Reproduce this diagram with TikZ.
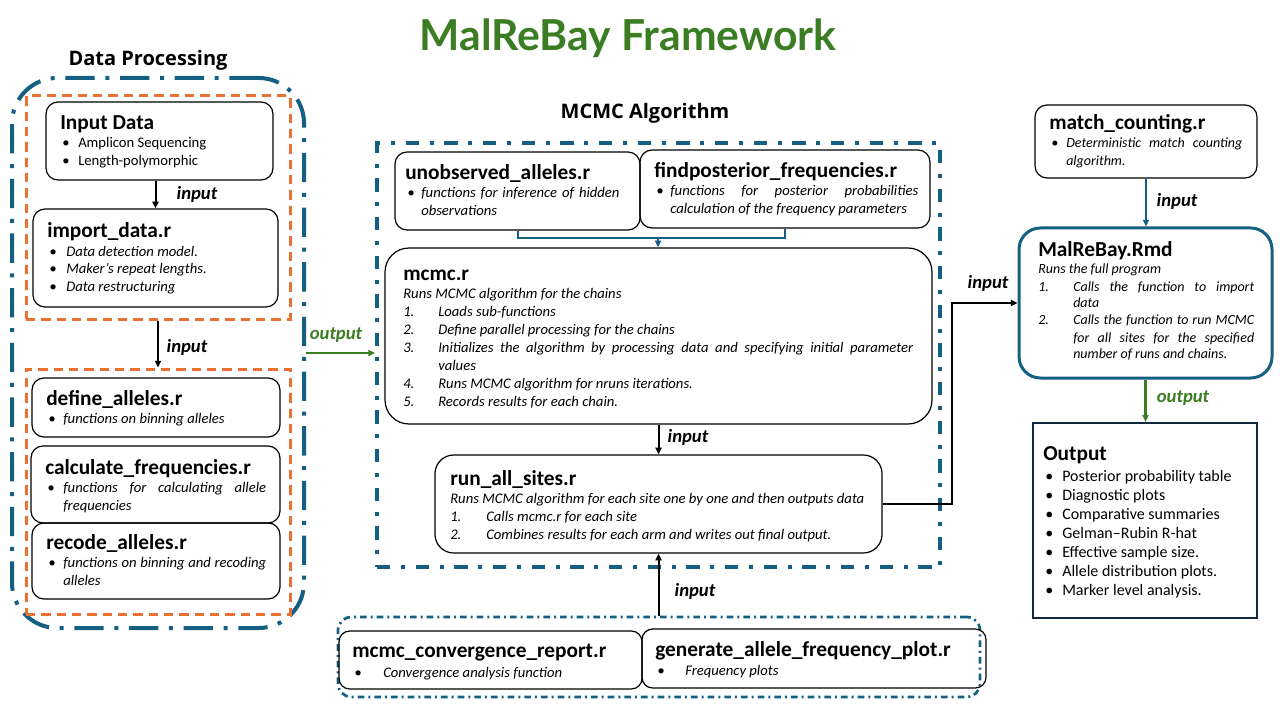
\documentclass[tikz,border=0pt]{standalone}
\usepackage{fontspec}
\setmainfont{Carlito}
\newfontfamily\latofont{Lato}
\newfontfamily\headfont{Open Sans}
\usetikzlibrary{arrows.meta,fit}
\definecolor{mblue}{HTML}{156082}
\definecolor{morange}{HTML}{E97132}
\definecolor{mgreen}{HTML}{3B7D23}
\definecolor{mnavy}{HTML}{0E2841}
\hyphenpenalty=10000
\exhyphenpenalty=10000
\newcommand{\btl}[1]{{\fontsize{16}{19}\selectfont\bfseries #1}\par}
\newcommand{\bli}[2]{\par\noindent\hangindent=#1\hangafter=1\hbox to #1{\hspace{1.5pt}\textbullet\hfil}#2\par}
\newcommand{\nli}[3]{\par\noindent\hangindent=#1\hangafter=1\hbox to #1{#2\hfil}#3\par}
\tikzset{
  dpbox/.style={draw=mblue, line width=3pt, rounded corners=34pt, inner sep=0pt, dash pattern=on 22pt off 8pt on 3pt off 8pt},
  mcbox/.style={draw=mblue, line width=3pt, inner sep=0pt, dash pattern=on 10pt off 8pt on 3pt off 8pt},
  obox/.style={draw=morange, line width=2.25pt, inner sep=0pt, dash pattern=on 7pt off 4.5pt},
  grpbox/.style={draw=mblue, line width=2pt, rounded corners=10pt, inner sep=0pt, dash pattern=on 5pt off 3pt on 1.5pt off 3pt},
  sbox/.style={draw=black, line width=0.9pt, rounded corners=9pt, inner sep=0pt},
  malbox/.style={draw=mblue, line width=2.25pt, rounded corners=16pt, inner sep=0pt},
  outbox/.style={draw=mnavy, line width=1.9pt, inner sep=0pt},
  tx/.style={anchor=base west, inner sep=0pt, align=justify, font=\fontsize{11}{13.5}\selectfont},
  lab/.style={font=\fontsize{14}{16}\selectfont\bfseries\itshape, inner sep=0pt},
  head/.style={font=\headfont\bfseries\fontsize{15}{18}\selectfont, inner sep=0pt},
  tip/.style={-{Triangle[length=5pt,width=4.5pt]}},
  barrow/.style={tip, draw=black, line width=1.5pt},
  garrow/.style={tip, draw=mgreen, line width=1.8pt},
  blarrow/.style={tip, draw=mblue, line width=1.5pt},
  bline/.style={draw=mblue, line width=1.5pt},
}
\begin{document}
\begin{tikzpicture}[x=0.75pt,y=-0.75pt]
\useasboundingbox[fill=white] (0,0) rectangle (1280,720);

% title and headings
\node[font=\latofont\bfseries\fontsize{32}{38}\selectfont, text=mgreen, inner sep=0pt] (title) at (628,38) {MalReBay Framework};
\node[head] (hdp) at (148,60) {Data Processing};
\node[head] (hmc) at (645,113) {MCMC Algorithm};

% groups
\node[dpbox, fit={(12,78) (304,628)}] (dp) {};
\node[obox, fit={(26,96) (290,319)}] (ob1) {};
\node[obox, fit={(26,369) (290,614)}] (ob2) {};
\node[mcbox, fit={(377,143) (940,567)}] (mc) {};
\node[grpbox, fit={(338,617) (980,697)}] (grp) {};

% boxes
\node[sbox, fit={(46,102) (273,180)}] (inp) {};
\node[sbox, fit={(33,209) (278,307)}] (imp) {};
\node[sbox, fit={(32,378) (280,437)}] (def) {};
\node[sbox, fit={(31,446) (280,523)}] (calc) {};
\node[sbox, fit={(32,523) (280,599)}] (rec) {};
\node[sbox, fit={(395,152) (640,230)}] (unobs) {};
\node[sbox, fit={(640,150) (930,228)}] (fp) {};
\node[sbox, rounded corners=18pt, fit={(385,248) (932,424)}] (mcmc) {};
\node[sbox, rounded corners=14pt, fit={(435,455) (882,553)}] (run) {};
\node[sbox, rounded corners=8pt, fit={(339,631) (642,689)}] (conv) {};
\node[sbox, rounded corners=8pt, fit={(642,629) (986,688)}] (gen) {};
\node[sbox, fit={(1035,105) (1257,178)}] (match) {};
\node[malbox, fit={(1019,228) (1272,378)}] (mal) {};
\node[outbox, fit={(1033,423) (1257,618)}] (out) {};

% texts
\node[tx, text width=153.75pt] (inpt) at (60,130) {\btl{Input Data}\bli{13.5pt}{Amplicon Sequencing}\bli{13.5pt}{Length-polymorphic}};
\node[tx, text width=170pt] (impt) at (47,238) {\btl{import\_data.r}\itshape\bli{14.25pt}{Data detection model.}\bli{14.25pt}{Maker’s repeat lengths.}\bli{14.25pt}{Data restructuring}};
\node[tx, text width=170pt] (deft) at (46,405) {\btl{define\_alleles.r}\itshape\bli{12.75pt}{functions on binning alleles}};
\node[tx, text width=165.75pt] (calct) at (45,474) {\btl{calculate\_frequencies.r}\itshape\bli{13.5pt}{functions for calculating allele\linebreak frequencies}};
\node[tx, text width=165pt] (rect) at (46,549) {\btl{recode\_alleles.r}\itshape\bli{12.75pt}{functions on binning and recoding\linebreak alleles}};
\node[tx, text width=167.25pt, align=left] (unobst) at (405,180) {\btl{unobserved\_alleles.r}\itshape\bli{12pt}{functions for inference of hidden\linebreak observations}};
\node[tx, text width=198pt] (fpt) at (654,178) {\btl{findposterior\_frequencies.r}\itshape\bli{12pt}{functions for posterior probabilities\linebreak calculation of the frequency parameters}};
\node[tx, text width=382.5pt] (mcmct) at (403,280) {\btl{mcmc.r}\itshape Runs MCMC algorithm for the chains\par
  \nli{26.25pt}{1.}{Loads sub-functions}
  \nli{26.25pt}{2.}{Define parallel processing for the chains}
  \nli{26.25pt}{3.}{Initializes the algorithm by processing data and specifying initial parameter\linebreak values}
  \nli{26.25pt}{4.}{Runs MCMC algorithm for nruns iterations.}
  \nli{26.25pt}{5.}{Records results for each chain.}};
\node[tx, text width=321pt] (runt) at (450,485) {\btl{run\_all\_sites.r}\itshape Runs MCMC algorithm for each site one by one and then outputs data\par
  \nli{27pt}{1.}{Calls mcmc.r for each site}
  \nli{27pt}{2.}{Combines results for each arm and writes out final output.}};
\node[tx, text width=215pt] (convt) at (352,657) {\btl{mcmc\_convergence\_report.r}\vspace{1.5pt}\itshape\bli{23.25pt}{Convergence analysis function}};
\node[tx, text width=250pt] (gent) at (655,656) {\btl{generate\_allele\_frequency\_plot.r}\vspace{1pt}\itshape\bli{22.5pt}{Frequency plots}};
\node[tx, text width=144.75pt, font=\fontsize{10.5}{13.5}\selectfont] (matcht) at (1049,130) {\btl{match\_counting.r}\itshape\bli{12.75pt}{Deterministic match counting\linebreak algorithm.}};
\node[tx, text width=162pt, font=\fontsize{10.5}{12.75}\selectfont] (malt) at (1038,257) {\btl{MalReBay.Rmd}\itshape Runs the full program\par
  \nli{26.25pt}{1.}{Calls the function to import\linebreak data}
  \nli{26.25pt}{2.}{Calls the function to run MCMC\linebreak for all sites for the specified\linebreak number of runs and chains.}};
\node[tx, text width=160pt, font=\fontsize{12}{14.25}\selectfont] (outt) at (1043,460) {\btl{Output}\vspace{2pt}
  \bli{14.25pt}{Posterior probability table}
  \bli{14.25pt}{Diagnostic plots}
  \bli{14.25pt}{Comparative summaries}
  \bli{14.25pt}{Gelman–Rubin R-hat}
  \bli{14.25pt}{Effective sample size.}
  \bli{14.25pt}{Allele distribution plots.}
  \bli{14.25pt}{Marker level analysis.}};

% connectors
\draw[barrow] (imp.north |- inp.south) -- (imp.north);
\draw[barrow] (ob1.south) -- (ob2.north);
\draw[garrow] (dp.east) -- (dp.east -| mc.west);
\coordinate (jn) at (658,238);
\draw[bline] (unobs.south) |- (jn) -| (fp.south);
\draw[blarrow] (jn) -- (jn |- mcmc.north);
\draw[barrow] (mcmc.south) -- (mcmc.south |- run.north);
\draw[barrow] (run.south |- grp.north) -- (run.south);
\draw[barrow] (run.east) -- ++(69,0) |- (mal.west);
\draw[blarrow] (match.south) -- (match.south |- mal.north);
\draw[garrow] (mal.south) -- (mal.south |- out.north);

% labels
\node[lab] (l1) at (197,194) {input};
\node[lab] (l2) at (187,347) {input};
\node[lab, text=mgreen] (l3) at (336,335) {output};
\node[lab] (l4) at (688,437) {input};
\node[lab] (l5) at (695,591) {input};
\node[lab] (l6) at (1177,201) {input};
\node[lab] (l7) at (988,283) {input};
\node[lab, text=mgreen] (l8) at (1183,398) {output};
\end{tikzpicture}
\end{document}
